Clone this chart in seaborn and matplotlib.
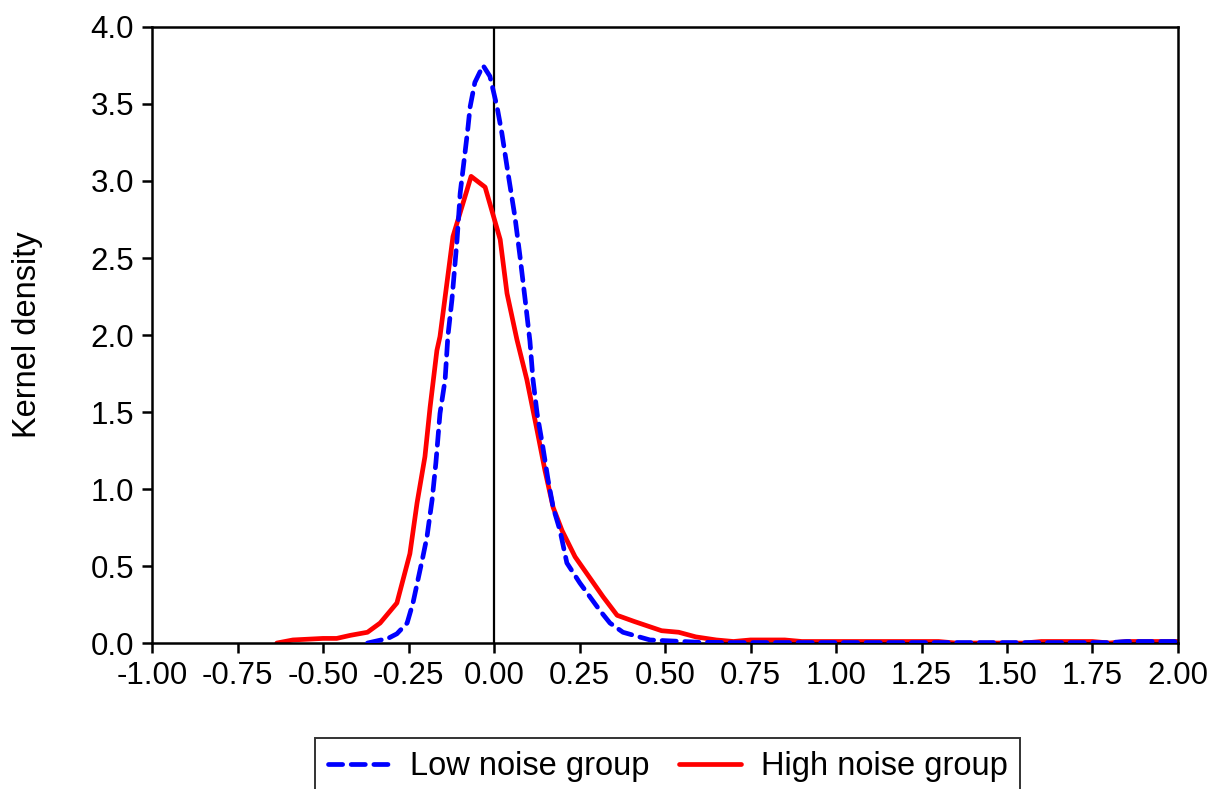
import matplotlib
matplotlib.use("Agg")
import matplotlib.pyplot as plt
import seaborn as sns

# Low noise group (blue dashed)
low_x = [-0.37, -0.31, -0.284, -0.254, -0.237, -0.208, -0.196, -0.181, -0.170, -0.158,
         -0.143, -0.135, -0.123, -0.108, -0.099, -0.085, -0.076, -0.070, -0.056, -0.032,
         -0.012, 0.009, 0.023, 0.041, 0.061, 0.076, 0.091, 0.105, 0.114, 0.126,
         0.143, 0.158, 0.173, 0.193, 0.213, 0.251, 0.310, 0.339, 0.377, 0.456,
         0.60, 0.70, 0.85, 1.0, 1.2, 1.4, 1.6, 1.8, 1.85, 1.95, 2.0]
low_y = [0.0, 0.03, 0.06, 0.13, 0.26, 0.56, 0.69, 0.93, 1.17, 1.49,
         1.71, 1.99, 2.23, 2.62, 2.92, 3.18, 3.35, 3.48, 3.64, 3.75,
         3.68, 3.48, 3.31, 3.05, 2.77, 2.51, 2.23, 1.96, 1.71, 1.49,
         1.27, 1.06, 0.88, 0.73, 0.52, 0.39, 0.21, 0.13, 0.07, 0.02,
         0.005, 0.003, 0.003, 0.003, 0.003, 0.003, 0.003, 0.003, 0.01, 0.01, 0.01]

# High noise group (red solid)
high_x = [-0.635, -0.588, -0.50, -0.46, -0.42, -0.37, -0.333, -0.284, -0.246, -0.225,
          -0.202, -0.187, -0.167, -0.158, -0.120, -0.067, -0.026, 0.018, 0.038, 0.067,
          0.096, 0.126, 0.149, 0.173, 0.199, 0.237, 0.319, 0.36, 0.41, 0.49,
          0.54, 0.59, 0.65, 0.70, 0.75, 0.85, 0.90, 1.0, 1.3, 1.35,
          1.55, 1.6, 1.75, 1.8, 1.85, 2.0]
high_y = [0.0, 0.02, 0.03, 0.03, 0.05, 0.07, 0.13, 0.26, 0.58, 0.91,
          1.21, 1.53, 1.90, 1.99, 2.64, 3.03, 2.96, 2.62, 2.27, 1.97,
          1.71, 1.38, 1.12, 0.88, 0.73, 0.56, 0.30, 0.18, 0.14, 0.08,
          0.07, 0.04, 0.02, 0.01, 0.02, 0.02, 0.01, 0.01, 0.01, 0.0,
          0.0, 0.01, 0.01, 0.0, 0.01, 0.01]

x_ticks = [-1.0, -0.75, -0.5, -0.25, 0.0, 0.25, 0.5, 0.75, 1.0, 1.25, 1.5, 1.75, 2.0]
y_ticks = [0.0, 0.5, 1.0, 1.5, 2.0, 2.5, 3.0, 3.5, 4.0]

sns.set_style("white")
plt.rcParams['font.family'] = ['Liberation Sans', 'DejaVu Sans']
plt.rcParams['text.color'] = 'black'
plt.rcParams['axes.labelcolor'] = 'black'

fig = plt.figure(figsize=(12.29, 7.89), dpi=100)
ax = fig.add_axes([0.1237, 0.185, 0.8348, 0.7808])

ax.axvline(0, color="black", lw=1.6, zorder=1)
sns.lineplot(x=low_x, y=low_y, ax=ax, color="#0000ff", lw=3.4, label="Low noise group",
             zorder=3)
sns.lineplot(x=high_x, y=high_y, ax=ax, color="#ff0000", lw=3.4, label="High noise group",
             zorder=2)
ax.lines[1].set_dashes([3, 1.8])
ax.lines[1].set_dash_capstyle("round")

ax.set_xlim(-1, 2)
ax.set_ylim(0, 4)
ax.set_xticks(x_ticks)
ax.set_yticks(y_ticks)
ax.set_xticklabels([f"{v:.2f}" for v in x_ticks])
ax.set_yticklabels([f"{v:.1f}" for v in y_ticks])
ax.tick_params(direction="out", length=7, width=1.8, labelsize=22.5, colors="black",
               bottom=True, left=True)
ax.tick_params(axis="x", pad=6)
ax.tick_params(axis="y", pad=6)
for s in ax.spines.values():
    s.set_color("black")
    s.set_linewidth(1.8)
ax.set_ylabel("Kernel density", fontsize=23.5, labelpad=34)
ax.set_xlabel("")

handles, labels = ax.get_legend_handles_labels()
ax.get_legend().remove()
leg = fig.legend(handles, labels, loc="upper center", bbox_to_anchor=(0.5435, 0.0646),
                 ncol=2, fontsize=23.5, frameon=True, fancybox=False, edgecolor="black",
                 handlelength=1.9, handletextpad=0.6, columnspacing=0.9,
                 borderpad=0.4, borderaxespad=0)
leg.get_frame().set_linewidth(1.4)

fig.savefig("out.png", dpi=100)
